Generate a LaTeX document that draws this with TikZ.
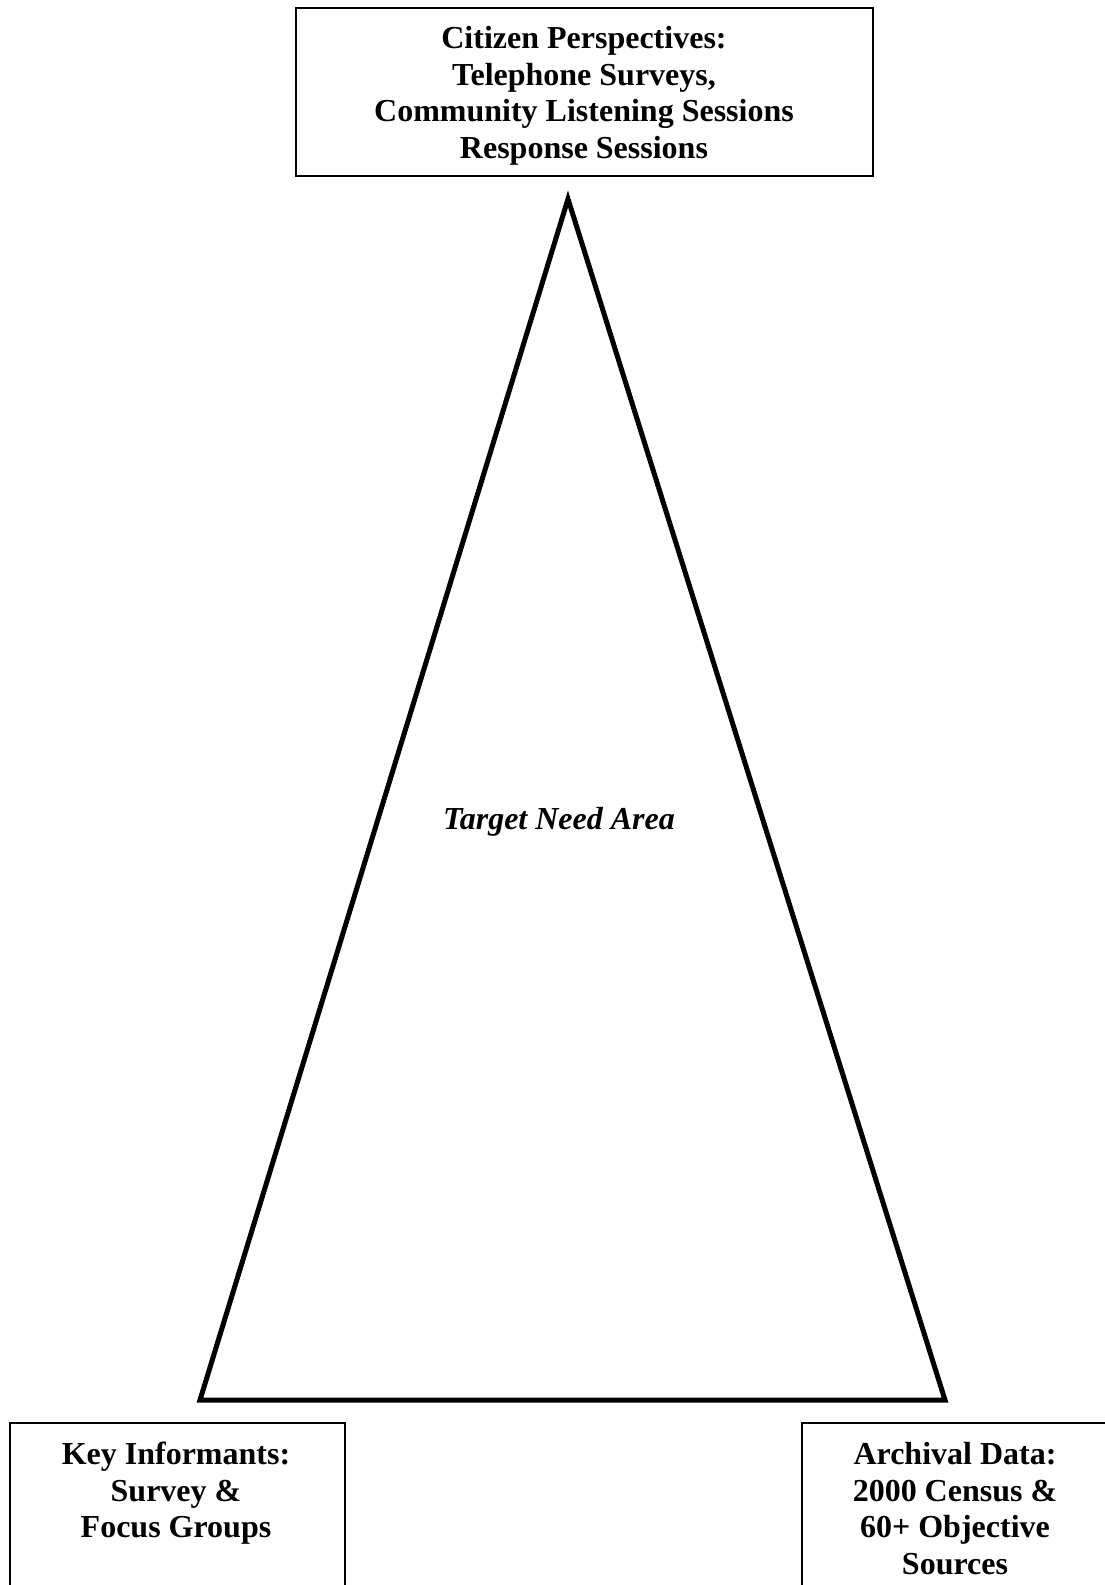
\documentclass[tikz,border=0pt]{standalone}
\usepackage{fontspec}
\setmainfont{Liberation Serif}
\begin{document}
\begin{tikzpicture}[x=1pt,y=-1pt,
  box/.style={draw=black, line width=1.6pt, inner sep=0pt},
  lbl/.style={font=\fontsize{32}{36.6}\selectfont\bfseries, align=center, inner sep=0pt, anchor=north},
  tri/.style={draw=black, line width=5pt, line join=miter}]
\useasboundingbox (0,0) rectangle (1105,1585);
\clip (0,0) rectangle (1105,1585);
\fill[white] (0,0) rectangle (1105,1585);
% top box
\node[box, minimum width=577pt, minimum height=168pt, anchor=north west] (top) at (295,7) {};
\node[lbl] (toptxt) at (584,26) {Citizen Perspectives:\\Telephone Surveys,\\Community Listening Sessions\\Response Sessions};
% triangle
\coordinate (apex) at (568,199);
\coordinate (bl) at (200,1400);
\coordinate (br) at (945,1400);
\draw[tri] (apex) -- (bl) -- (br) -- cycle;
\node[font=\fontsize{32}{36.6}\selectfont\bfseries\itshape, inner sep=0pt] (target) at (559,822) {Target Need Area};
% bottom-left box
\node[box, minimum width=335pt, minimum height=200pt, anchor=north west] (left) at (9,1422) {};
\node[lbl] (lefttxt) at (176,1442) {Key Informants:\\Survey \&\\Focus Groups};
% bottom-right box
\node[box, minimum width=340pt, minimum height=200pt, anchor=north west] (right) at (801,1422) {};
\node[lbl] (righttxt) at (955,1442) {Archival Data:\\2000 Census \&\\60+ Objective\\Sources};
\end{tikzpicture}
\end{document}
